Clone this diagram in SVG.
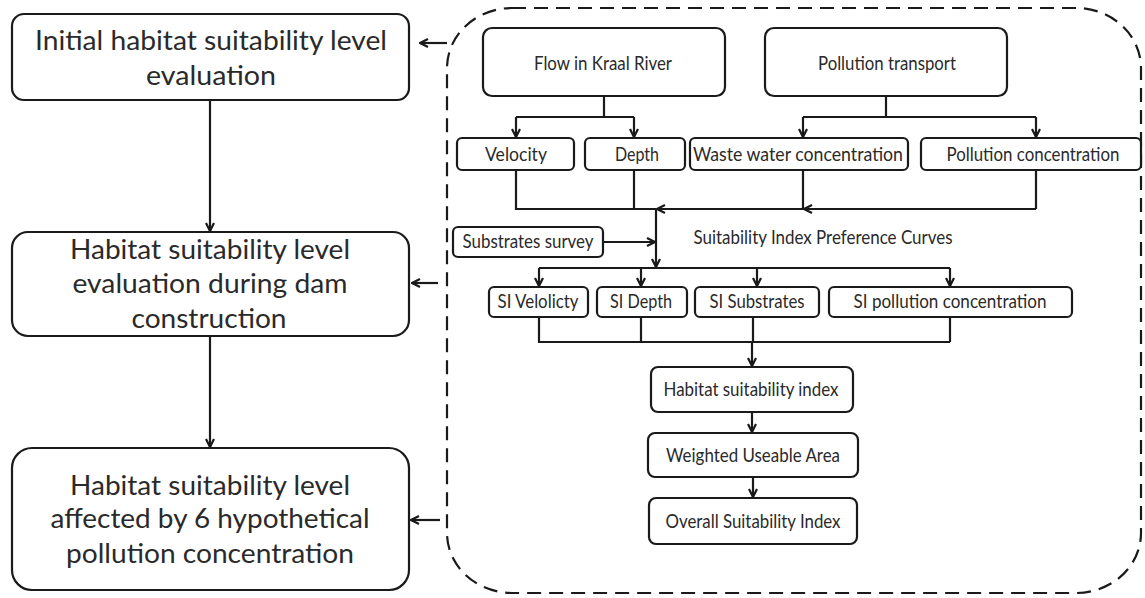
<svg xmlns="http://www.w3.org/2000/svg" width="1145" height="598" viewBox="0 0 1145 598">
<style>
.box{fill:#fff;stroke:#1a1a1a;stroke-width:2.2}
.ln{fill:none;stroke:#1a1a1a;stroke-width:2.2}
.big{font-family:Lato,"Liberation Sans",sans-serif;font-size:26px;fill:#2a2a2a;text-anchor:middle}
.sm{font-family:Lato,"Liberation Sans",sans-serif;font-size:19px;fill:#2a2a2a;text-anchor:middle}
</style>
<defs>
<marker id="ah" viewBox="0 0 10 10" refX="9" refY="5" markerWidth="10" markerHeight="10" markerUnits="userSpaceOnUse" orient="auto">
<path d="M1,1 L9,5 L1,9" fill="none" stroke="#1a1a1a" stroke-width="2.2"/>
</marker>
</defs>
<rect width="1145" height="598" fill="#fff"/>
<rect id="container" x="447" y="8" width="694" height="585" rx="65" ry="60" fill="none" stroke="#1a1a1a" stroke-width="2.2" stroke-dasharray="14 8"/>

<g id="n_initial">
<rect class="box" x="12" y="14" width="397" height="86" rx="12"/>
<text class="big" x="211" y="50" textLength="352" lengthAdjust="spacingAndGlyphs">Initial habitat suitability level</text>
<text class="big" x="211" y="85" textLength="130" lengthAdjust="spacingAndGlyphs">evaluation</text>
</g>
<g id="n_dam">
<rect class="box" x="12" y="232" width="397" height="104" rx="16"/>
<text class="big" x="210" y="259" textLength="280" lengthAdjust="spacingAndGlyphs">Habitat suitability level</text>
<text class="big" x="210" y="293" textLength="275" lengthAdjust="spacingAndGlyphs">evaluation during dam</text>
<text class="big" x="209" y="328" textLength="155" lengthAdjust="spacingAndGlyphs">construction</text>
</g>
<g id="n_pollution6">
<rect class="box" x="12" y="448" width="397" height="142" rx="20"/>
<text class="big" x="210" y="495" textLength="280" lengthAdjust="spacingAndGlyphs">Habitat suitability level</text>
<text class="big" x="210" y="528" textLength="319" lengthAdjust="spacingAndGlyphs">affected by 6 hypothetical</text>
<text class="big" x="210" y="563" textLength="288" lengthAdjust="spacingAndGlyphs">pollution concentration</text>
</g>

<g id="n_flow">
<rect class="box" x="483" y="28" width="242" height="68" rx="9"/>
<text class="sm" x="603" y="70" textLength="138" lengthAdjust="spacingAndGlyphs">Flow in Kraal River</text>
</g>
<g id="n_ptransport">
<rect class="box" x="765" y="28" width="242" height="68" rx="9"/>
<text class="sm" x="887" y="70" textLength="138" lengthAdjust="spacingAndGlyphs">Pollution transport</text>
</g>
<g id="n_velocity">
<rect class="box" x="457" y="138" width="117" height="32" rx="5"/>
<text class="sm" x="516" y="161" textLength="62" lengthAdjust="spacingAndGlyphs">Velocity</text>
</g>
<g id="n_depth">
<rect class="box" x="585" y="138" width="100" height="32" rx="5"/>
<text class="sm" x="637" y="161" textLength="44" lengthAdjust="spacingAndGlyphs">Depth</text>
</g>
<g id="n_waste">
<rect class="box" x="690" y="138" width="218" height="32" rx="5"/>
<text class="sm" x="798" y="161" textLength="210" lengthAdjust="spacingAndGlyphs">Waste water concentration</text>
</g>
<g id="n_pconc">
<rect class="box" x="921" y="138" width="220" height="32" rx="5"/>
<text class="sm" x="1033" y="161" textLength="173" lengthAdjust="spacingAndGlyphs">Pollution concentration</text>
</g>
<g id="n_substrates">
<rect class="box" x="453" y="227" width="150" height="30" rx="5"/>
<text class="sm" x="528" y="248" textLength="131" lengthAdjust="spacingAndGlyphs">Substrates survey</text>
</g>
<g id="n_curves_label">
<text class="sm" x="823" y="244" textLength="259" lengthAdjust="spacingAndGlyphs">Suitability Index Preference Curves</text>
</g>
<g id="n_sivel">
<rect class="box" x="489" y="287" width="99" height="30" rx="5"/>
<text class="sm" x="538" y="308" textLength="81" lengthAdjust="spacingAndGlyphs">SI Velolicty</text>
</g>
<g id="n_sidepth">
<rect class="box" x="597" y="287" width="90" height="30" rx="5"/>
<text class="sm" x="641" y="308" textLength="62" lengthAdjust="spacingAndGlyphs">SI Depth</text>
</g>
<g id="n_sisub">
<rect class="box" x="695" y="287" width="124" height="30" rx="5"/>
<text class="sm" x="757" y="308" textLength="95" lengthAdjust="spacingAndGlyphs">SI Substrates</text>
</g>
<g id="n_sipoll">
<rect class="box" x="829" y="287" width="243" height="30" rx="5"/>
<text class="sm" x="950" y="308" textLength="193" lengthAdjust="spacingAndGlyphs">SI pollution concentration</text>
</g>
<g id="n_hsi">
<rect class="box" x="651" y="367" width="202" height="45" rx="7"/>
<text class="sm" x="751" y="396" textLength="175" lengthAdjust="spacingAndGlyphs">Habitat suitability index</text>
</g>
<g id="n_wua">
<rect class="box" x="648" y="433" width="210" height="44" rx="7"/>
<text class="sm" x="753" y="462" textLength="174" lengthAdjust="spacingAndGlyphs">Weighted Useable Area</text>
</g>
<g id="n_osi">
<rect class="box" x="649" y="498" width="208" height="46" rx="7"/>
<text class="sm" x="753" y="528" textLength="175" lengthAdjust="spacingAndGlyphs">Overall Suitability Index</text>
</g>

<g id="connectors">
<path class="ln" d="M210,100 V231" marker-end="url(#ah)"/>
<path class="ln" d="M210,336 V447" marker-end="url(#ah)"/>
<path class="ln" d="M447,43 H420" marker-end="url(#ah)"/>
<path class="ln" d="M438,283 H412" marker-end="url(#ah)"/>
<path class="ln" d="M440,520 H411" marker-end="url(#ah)"/>

<path class="ln" d="M604,96 V117 M516,117 H634"/>
<path class="ln" d="M516,117 V137" marker-end="url(#ah)"/>
<path class="ln" d="M634,117 V137" marker-end="url(#ah)"/>
<path class="ln" d="M886,96 V117 M803,117 H1036"/>
<path class="ln" d="M803,117 V137" marker-end="url(#ah)"/>
<path class="ln" d="M1036,117 V137" marker-end="url(#ah)"/>

<path class="ln" d="M516,170 V209 H656 M634,170 V209 M803,170 V209 M1036,170 V209"/>
<path class="ln" d="M1036,209 H804" marker-end="url(#ah)"/>
<path class="ln" d="M803,209 H657" marker-end="url(#ah)"/>
<path class="ln" d="M656,209 V267" marker-end="url(#ah)"/>
<path class="ln" d="M603,242 H655" marker-end="url(#ah)"/>

<path class="ln" d="M539,268 H950"/>
<path class="ln" d="M539,268 V286" marker-end="url(#ah)"/>
<path class="ln" d="M641,268 V286" marker-end="url(#ah)"/>
<path class="ln" d="M757,268 V286" marker-end="url(#ah)"/>
<path class="ln" d="M950,268 V286" marker-end="url(#ah)"/>

<path class="ln" d="M539,317 V342 H950 M641,317 V342 M753,317 V342 M950,317 V342"/>
<path class="ln" d="M752,342 V366" marker-end="url(#ah)"/>
<path class="ln" d="M752,412 V432" marker-end="url(#ah)"/>
<path class="ln" d="M753,477 V497" marker-end="url(#ah)"/>
</g>
</svg>
